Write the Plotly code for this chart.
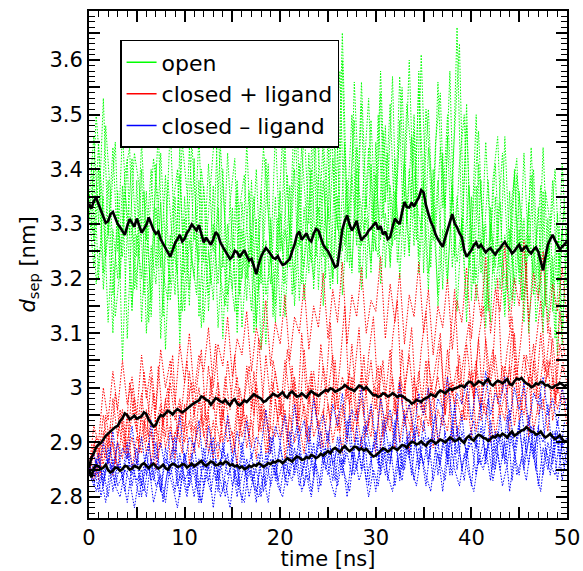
import plotly.graph_objects as go

# sampling grids (ns)
time_ns = [i * 0.5 for i in range(101)]          # runs 1-4
time_ns_mid = [0.25 + i * 0.5 for i in range(100)]  # runs 5-6
time_ns_avg = [i * 0.25 for i in range(201)]      # running averages

# --- open state: individual runs ---
open_run1 = [3.34, 3.46, 3.30, 3.53, 3.28, 3.44, 3.25, 3.47, 3.29, 3.42,
             3.24, 3.45, 3.27, 3.40, 3.22, 3.43, 3.26, 3.48, 3.25, 3.39,
             3.21, 3.44, 3.27, 3.46, 3.23, 3.41, 3.25, 3.50, 3.22, 3.43,
             3.26, 3.38, 3.20, 3.45, 3.24, 3.40, 3.19, 3.42, 3.23, 3.47,
             3.25, 3.44, 3.28, 3.52, 3.26, 3.48, 3.30, 3.55, 3.27, 3.46,
             3.31, 3.53, 3.29, 3.65, 3.32, 3.50, 3.28, 3.56, 3.33, 3.49,
             3.30, 3.58, 3.34, 3.52, 3.29, 3.57, 3.35, 3.60, 3.31, 3.55,
             3.36, 3.51, 3.30, 3.56, 3.33, 3.50, 3.34, 3.66, 3.28, 3.48,
             3.26, 3.50, 3.24, 3.45, 3.27, 3.41, 3.22, 3.46, 3.25, 3.39,
             3.21, 3.43, 3.24, 3.40, 3.20, 3.44, 3.23, 3.38, 3.19, 3.41,
             3.24]
open_run2 = [3.33, 3.22, 3.40, 3.18, 3.31, 3.10, 3.36, 3.05, 3.29, 3.14,
             3.38, 3.12, 3.30, 3.16, 3.41, 3.09, 3.27, 3.19, 3.35, 3.08,
             3.31, 3.15, 3.42, 3.13, 3.28, 3.17, 3.37, 3.11, 3.26, 3.14,
             3.33, 3.10, 3.29, 3.16, 3.38, 3.12, 3.25, 3.08, 3.31, 3.15,
             3.36, 3.13, 3.30, 3.18, 3.41, 3.16, 3.27, 3.20, 3.39, 3.15,
             3.33, 3.19, 3.44, 3.17, 3.30, 3.22, 3.40, 3.18, 3.35, 3.21,
             3.45, 3.19, 3.32, 3.23, 3.42, 3.20, 3.36, 3.24, 3.47, 3.21,
             3.34, 3.18, 3.40, 3.15, 3.29, 3.19, 3.37, 3.14, 3.31, 3.12,
             3.35, 3.16, 3.27, 3.11, 3.33, 3.18, 3.26, 3.13, 3.36, 3.15,
             3.29, 3.12, 3.34, 3.17, 3.25, 3.10, 3.31, 3.14, 3.27, 3.08,
             3.30]
open_run3 = [3.36, 3.27, 3.45, 3.21, 3.38, 3.17, 3.30, 3.24, 3.42, 3.15,
             3.28, 3.20, 3.36, 3.13, 3.33, 3.22, 3.39, 3.16, 3.27, 3.12,
             3.35, 3.18, 3.29, 3.23, 3.37, 3.14, 3.30, 3.19, 3.40, 3.17,
             3.26, 3.13, 3.34, 3.20, 3.28, 3.11, 3.36, 3.17, 3.24, 3.12,
             3.32, 3.19, 3.37, 3.15, 3.29, 3.22, 3.43, 3.18, 3.33, 3.24,
             3.46, 3.20, 3.35, 3.25, 3.38, 3.21, 3.44, 3.26, 3.31, 3.23,
             3.39, 3.27, 3.48, 3.22, 3.36, 3.28, 3.41, 3.25, 3.50, 3.24,
             3.38, 3.21, 3.32, 3.17, 3.43, 3.20, 3.35, 3.23, 3.30, 3.16,
             3.28, 3.20, 3.38, 3.14, 3.30, 3.22, 3.34, 3.15, 3.29, 3.19,
             3.36, 3.16, 3.28, 3.21, 3.33, 3.13, 3.27, 3.18, 3.32, 3.11,
             3.26]
open_run4 = [3.31, 3.40, 3.20, 3.35, 3.12, 3.29, 3.20, 3.37, 3.09, 3.31,
             3.18, 3.40, 3.10, 3.26, 3.19, 3.34, 3.07, 3.28, 3.17, 3.44,
             3.14, 3.27, 3.20, 3.38, 3.12, 3.25, 3.16, 3.33, 3.09, 3.30,
             3.18, 3.36, 3.11, 3.24, 3.14, 3.31, 3.07, 3.27, 3.19, 3.35,
             3.13, 3.29, 3.22, 3.40, 3.16, 3.33, 3.21, 3.47, 3.18, 3.38,
             3.24, 3.42, 3.19, 3.60, 3.23, 3.39, 3.26, 3.52, 3.20, 3.41,
             3.25, 3.54, 3.22, 3.37, 3.27, 3.49, 3.24, 3.40, 3.26, 3.58,
             3.21, 3.44, 3.27, 3.38, 3.18, 3.46, 3.22, 3.35, 3.25, 3.52,
             3.16, 3.37, 3.21, 3.30, 3.12, 3.35, 3.18, 3.28, 3.14, 3.40,
             3.19, 3.31, 3.10, 3.26, 3.17, 3.36, 3.12, 3.24, 3.06, 3.29,
             3.18]
open_run5 = [3.41, 3.19, 3.27, 3.48, 3.35, 3.13, 3.22, 3.39, 3.44, 3.18,
             3.25, 3.36, 3.12, 3.30, 3.47, 3.21, 3.16, 3.33, 3.40, 3.14,
             3.23, 3.45, 3.31, 3.11, 3.26, 3.38, 3.49, 3.20, 3.15, 3.34,
             3.42, 3.17, 3.24, 3.36, 3.10, 3.28, 3.44, 3.32, 3.16, 3.29,
             3.46, 3.22, 3.35, 3.51, 3.19, 3.27, 3.40, 3.24, 3.55, 3.30,
             3.18, 3.43, 3.58, 3.26, 3.34, 3.49, 3.21, 3.39, 3.53, 3.28,
             3.24, 3.47, 3.36, 3.57, 3.23, 3.32, 3.52, 3.42, 3.27, 3.61,
             3.35, 3.22, 3.45, 3.54, 3.26, 3.31, 3.48, 3.63, 3.25, 3.37,
             3.19, 3.41, 3.29, 3.14, 3.38, 3.46, 3.23, 3.18, 3.35, 3.42,
             3.16, 3.27, 3.39, 3.12, 3.21, 3.36, 3.30, 3.09, 3.25, 3.33]
open_run6 = [3.29, 3.50, 3.38, 3.24, 3.33, 3.45, 3.20, 3.36, 3.28, 3.43,
             3.37, 3.17, 3.29, 3.42, 3.34, 3.13, 3.38, 3.26, 3.21, 3.45,
             3.36, 3.24, 3.17, 3.40, 3.32, 3.19, 3.27, 3.44, 3.30, 3.21,
             3.14, 3.33, 3.39, 3.22, 3.35, 3.18, 3.26, 3.41, 3.13, 3.31,
             3.25, 3.39, 3.17, 3.28, 3.44, 3.31, 3.23, 3.49, 3.37, 3.20,
             3.52, 3.33, 3.27, 3.45, 3.22, 3.56, 3.36, 3.29, 3.44, 3.25,
             3.50, 3.31, 3.43, 3.26, 3.39, 3.55, 3.30, 3.46, 3.34, 3.29,
             3.51, 3.40, 3.28, 3.44, 3.33, 3.58, 3.24, 3.41, 3.50, 3.22,
             3.34, 3.47, 3.26, 3.38, 3.21, 3.30, 3.43, 3.27, 3.16, 3.39,
             3.31, 3.20, 3.44, 3.25, 3.37, 3.15, 3.28, 3.40, 3.22, 3.35]

# --- closed + ligand: individual runs ---
lig_run1 = [2.85, 2.93, 2.90, 3.00, 2.94, 3.03, 2.96, 3.05, 2.97, 3.02,
            2.95, 3.06, 2.98, 3.04, 2.96, 3.07, 3.00, 3.05, 2.97, 3.08,
            3.01, 3.10, 2.99, 3.06, 3.03, 3.11, 3.00, 3.08, 3.04, 3.13,
            3.02, 3.09, 3.06, 3.14, 3.03, 3.11, 3.07, 3.16, 3.04, 3.12,
            3.08, 3.17, 3.05, 3.13, 3.10, 3.19, 3.07, 3.15, 3.11, 3.21,
            3.09, 3.18, 3.12, 3.23, 3.08, 3.17, 3.13, 3.22, 3.10, 3.16,
            3.14, 3.24, 3.09, 3.19, 3.12, 3.21, 3.08, 3.17, 3.13, 3.23,
            3.10, 3.18, 3.06, 3.15, 3.11, 3.20, 3.07, 3.16, 3.12, 3.22,
            3.09, 3.19, 3.13, 3.24, 3.10, 3.18, 3.14, 3.26, 3.11, 3.20,
            3.15, 3.27, 3.12, 3.21, 3.16, 3.25, 3.10, 3.19, 3.14, 3.22,
            3.12]
lig_run2 = [2.85, 2.90, 2.87, 2.95, 2.89, 2.98, 2.91, 2.96, 2.88, 3.00,
            2.92, 2.99, 2.90, 3.02, 2.93, 2.97, 2.91, 3.01, 2.94, 2.98,
            2.92, 3.03, 2.95, 3.00, 2.93, 3.04, 2.96, 3.01, 2.94, 3.05,
            2.97, 3.02, 2.93, 3.04, 2.96, 3.01, 2.94, 3.06, 2.97, 3.03,
            2.95, 3.05, 2.98, 3.02, 2.94, 3.07, 2.97, 3.03, 2.95, 3.04,
            2.99, 3.06, 2.96, 3.02, 2.98, 3.08, 2.95, 3.03, 2.99, 3.05,
            2.96, 3.04, 2.98, 3.07, 2.95, 3.02, 2.99, 3.06, 2.97, 3.03,
            2.95, 3.05, 2.98, 3.02, 2.96, 3.07, 2.99, 3.04, 2.97, 3.08,
            3.00, 3.05, 2.97, 3.09, 3.01, 3.06, 2.98, 3.04, 3.00, 3.10,
            2.99, 3.06, 3.01, 3.08, 2.98, 3.05, 3.02, 3.09, 2.99, 3.04,
            3.01]
lig_run3 = [2.84, 2.88, 2.83, 2.92, 2.86, 2.90, 2.85, 2.94, 2.87, 2.91,
            2.86, 2.95, 2.88, 2.92, 2.85, 2.96, 2.89, 2.93, 2.87, 2.97,
            2.90, 2.94, 2.88, 2.98, 2.91, 2.95, 2.87, 2.99, 2.90, 2.94,
            2.88, 2.97, 2.91, 2.95, 2.89, 3.00, 2.92, 2.96, 2.88, 2.98,
            2.91, 2.96, 2.89, 3.01, 2.92, 2.97, 2.90, 2.99, 2.93, 2.96,
            2.89, 3.00, 2.92, 2.97, 2.90, 3.02, 2.93, 2.98, 2.91, 2.96,
            2.88, 2.99, 2.92, 2.95, 2.89, 3.01, 2.93, 2.97, 2.90, 2.95,
            2.92, 3.00, 2.89, 2.96, 2.93, 3.02, 2.90, 2.98, 2.94, 2.99,
            2.91, 3.03, 2.94, 2.97, 2.90, 3.01, 2.95, 2.99, 2.92, 3.04,
            2.94, 3.00, 2.91, 3.05, 2.95, 2.98, 2.92, 3.02, 2.96, 3.00,
            2.93]
lig_run4 = [2.85, 2.83, 2.89, 2.86, 2.92, 2.84, 2.90, 2.87, 2.95, 2.85,
            2.91, 2.88, 2.96, 2.86, 2.93, 2.89, 2.98, 2.87, 2.92, 2.90,
            2.97, 2.86, 2.93, 2.89, 2.99, 2.88, 2.94, 2.87, 2.96, 2.90,
            2.92, 2.86, 2.98, 2.89, 2.94, 2.87, 2.97, 2.88, 2.93, 2.91,
            2.99, 2.87, 2.95, 2.90, 2.93, 2.88, 3.00, 2.91, 2.94, 2.89,
            2.97, 2.90, 2.95, 2.88, 3.01, 2.92, 2.96, 2.89, 2.94, 2.91,
            3.00, 2.89, 2.95, 2.92, 2.98, 2.90, 2.96, 2.88, 3.02, 2.91,
            2.97, 2.93, 2.99, 2.90, 2.95, 2.92, 3.01, 2.91, 2.96, 2.94,
            3.03, 2.92, 2.98, 2.95, 3.00, 2.91, 2.97, 2.94, 3.04, 2.93,
            2.99, 2.95, 3.02, 2.92, 2.97, 2.96, 3.05, 2.94, 3.00, 2.97,
            2.98]
lig_run5 = [2.87, 2.91, 2.84, 2.95, 2.89, 2.99, 2.92, 2.88, 3.01, 2.94,
            2.90, 3.03, 2.96, 2.89, 3.04, 2.93, 2.98, 3.06, 2.91, 2.97,
            3.05, 2.92, 3.00, 3.07, 2.94, 2.99, 3.08, 2.93, 3.02, 2.96,
            3.06, 2.91, 2.98, 3.04, 2.95, 3.09, 2.97, 2.92, 3.05, 3.00,
            2.94, 3.07, 3.01, 2.93, 3.10, 2.98, 3.03, 2.95, 3.08, 2.99,
            3.12, 2.96, 3.04, 3.15, 2.97, 3.02, 3.11, 2.95, 3.06, 3.13,
            2.98, 3.05, 2.94, 3.09, 3.16, 2.97, 3.03, 3.11, 2.96, 3.07,
            3.14, 2.99, 3.04, 3.10, 2.95, 3.08, 3.18, 3.00, 3.06, 3.12,
            2.98, 3.09, 3.15, 3.01, 3.05, 3.20, 2.99, 3.07, 3.13, 3.02,
            3.10, 3.23, 3.00, 3.08, 3.16, 3.03, 3.11, 2.98, 3.14, 3.06]
lig_run6 = [2.86, 2.84, 2.90, 2.87, 2.93, 2.86, 2.96, 2.89, 2.92, 2.98,
            2.88, 2.94, 2.91, 2.99, 2.87, 2.95, 3.00, 2.90, 2.93, 2.88,
            2.97, 3.01, 2.91, 2.95, 2.89, 3.02, 2.94, 2.90, 2.98, 2.93,
            2.89, 3.00, 2.95, 2.91, 3.03, 2.92, 2.96, 2.88, 3.01, 2.94,
            2.97, 2.90, 3.04, 2.93, 2.99, 2.91, 3.02, 2.95, 2.89, 3.00,
            2.94, 3.05, 2.92, 2.98, 3.03, 2.90, 2.96, 3.06, 2.93, 2.99,
            3.04, 2.91, 2.97, 3.02, 2.94, 3.07, 2.95, 2.92, 3.00, 2.96,
            3.05, 2.93, 2.99, 3.08, 2.95, 3.01, 2.97, 3.06, 2.94, 3.03,
            2.98, 3.09, 2.96, 3.02, 3.07, 2.97, 3.04, 2.99, 3.11, 3.00,
            2.96, 3.06, 3.02, 2.98, 3.10, 3.01, 3.05, 2.97, 3.08, 3.03]

# --- closed - ligand: individual runs ---
apo_run1 = [2.85, 2.88, 2.84, 2.90, 2.86, 2.92, 2.85, 2.89, 2.87, 2.93,
            2.86, 2.91, 2.84, 2.94, 2.87, 2.90, 2.85, 2.92, 2.88, 2.95,
            2.86, 2.91, 2.89, 2.94, 2.85, 2.93, 2.88, 2.90, 2.87, 2.95,
            2.86, 2.92, 2.88, 2.94, 2.87, 2.91, 2.89, 2.96, 2.88, 2.93,
            2.90, 2.95, 2.88, 2.97, 2.91, 2.94, 2.89, 2.98, 2.92, 2.95,
            2.90, 2.97, 2.93, 2.99, 2.91, 2.96, 2.94, 3.00, 2.92, 2.97,
            2.90, 2.98, 2.93, 2.96, 2.91, 3.01, 2.94, 2.97, 2.92, 2.99,
            2.95, 3.00, 2.93, 2.98, 2.96, 3.02, 2.94, 2.99, 2.97, 3.01,
            2.94, 3.00, 2.96, 3.03, 2.95, 2.99, 2.97, 3.02, 2.94, 3.00,
            2.96, 3.01, 2.93, 2.99, 2.97, 3.02, 2.95, 2.98, 2.93, 3.00,
            2.96]
apo_run2 = [2.85, 2.82, 2.87, 2.83, 2.89, 2.81, 2.86, 2.84, 2.90, 2.82,
            2.87, 2.80, 2.88, 2.83, 2.86, 2.81, 2.89, 2.84, 2.87, 2.80,
            2.88, 2.82, 2.86, 2.79, 2.89, 2.83, 2.87, 2.81, 2.90, 2.84,
            2.86, 2.80, 2.88, 2.83, 2.85, 2.79, 2.89, 2.82, 2.87, 2.84,
            2.90, 2.83, 2.88, 2.85, 2.91, 2.82, 2.89, 2.84, 2.92, 2.86,
            2.89, 2.83, 2.91, 2.86, 2.88, 2.84, 2.93, 2.85, 2.90, 2.87,
            2.92, 2.84, 2.89, 2.86, 2.94, 2.83, 2.90, 2.87, 2.92, 2.85,
            2.91, 2.86, 2.93, 2.84, 2.90, 2.87, 2.94, 2.85, 2.92, 2.88,
            2.90, 2.84, 2.93, 2.87, 2.91, 2.85, 2.95, 2.86, 2.92, 2.88,
            2.94, 2.85, 2.91, 2.87, 2.93, 2.84, 2.90, 2.86, 2.92, 2.83,
            2.89]
apo_run3 = [2.84, 2.86, 2.81, 2.85, 2.80, 2.87, 2.82, 2.84, 2.79, 2.86,
            2.83, 2.85, 2.80, 2.87, 2.82, 2.84, 2.79, 2.86, 2.81, 2.88,
            2.83, 2.85, 2.80, 2.87, 2.82, 2.86, 2.78, 2.85, 2.81, 2.88,
            2.82, 2.86, 2.79, 2.87, 2.83, 2.85, 2.80, 2.88, 2.82, 2.86,
            2.81, 2.87, 2.84, 2.89, 2.82, 2.86, 2.83, 2.90, 2.81, 2.88,
            2.84, 2.89, 2.82, 2.87, 2.80, 2.88, 2.85, 2.91, 2.83, 2.87,
            2.81, 2.89, 2.84, 2.90, 2.82, 2.88, 2.85, 2.92, 2.83, 2.89,
            2.86, 2.91, 2.83, 2.88, 2.81, 2.90, 2.84, 2.93, 2.85, 2.89,
            2.82, 2.91, 2.86, 2.89, 2.83, 2.92, 2.85, 2.90, 2.81, 2.88,
            2.84, 2.91, 2.86, 2.93, 2.82, 2.89, 2.85, 2.92, 2.83, 2.90,
            2.86]
apo_run4 = [2.86, 2.84, 2.88, 2.82, 2.87, 2.85, 2.90, 2.83, 2.88, 2.84,
            2.89, 2.82, 2.86, 2.84, 2.90, 2.81, 2.87, 2.85, 2.91, 2.83,
            2.88, 2.84, 2.90, 2.82, 2.87, 2.85, 2.91, 2.83, 2.89, 2.86,
            2.87, 2.82, 2.90, 2.84, 2.88, 2.81, 2.86, 2.85, 2.91, 2.83,
            2.89, 2.85, 2.92, 2.84, 2.88, 2.86, 2.93, 2.85, 2.90, 2.87,
            2.92, 2.86, 2.89, 2.84, 2.94, 2.87, 2.91, 2.85, 2.93, 2.88,
            2.90, 2.85, 2.93, 2.87, 2.91, 2.84, 2.95, 2.88, 2.92, 2.86,
            2.94, 2.87, 2.91, 2.89, 2.96, 2.86, 2.93, 2.88, 2.95, 2.87,
            2.92, 2.89, 2.97, 2.86, 2.94, 2.88, 2.91, 2.87, 2.96, 2.89,
            2.93, 2.86, 2.95, 2.88, 2.92, 2.90, 2.97, 2.87, 2.94, 2.89,
            2.91]
apo_run5 = [2.83, 2.87, 2.80, 2.85, 2.89, 2.82, 2.86, 2.81, 2.88, 2.84,
            2.80, 2.86, 2.90, 2.83, 2.87, 2.79, 2.85, 2.89, 2.82, 2.86,
            2.81, 2.88, 2.84, 2.79, 2.86, 2.90, 2.83, 2.87, 2.80, 2.85,
            2.89, 2.82, 2.86, 2.80, 2.84, 2.88, 2.81, 2.87, 2.91, 2.83,
            2.86, 2.82, 2.89, 2.93, 2.84, 2.88, 2.81, 2.87, 2.92, 2.85,
            2.89, 2.83, 2.91, 2.86, 2.95, 2.84, 2.88, 2.93, 2.82, 2.90,
            2.86, 2.94, 2.83, 2.89, 2.96, 2.85, 2.91, 2.84, 2.93, 2.88,
            2.82, 2.90, 2.95, 2.86, 2.92, 2.84, 2.97, 2.88, 2.83, 2.91,
            2.94, 2.86, 2.90, 2.98, 2.85, 2.92, 2.87, 2.95, 2.83, 2.90,
            2.96, 2.88, 2.93, 2.85, 2.99, 2.89, 2.84, 2.92, 2.87, 2.94]
apo_run6 = [2.85, 2.81, 2.84, 2.79, 2.86, 2.82, 2.80, 2.85, 2.83, 2.78,
            2.84, 2.81, 2.86, 2.79, 2.83, 2.80, 2.85, 2.82, 2.78, 2.84,
            2.80, 2.86, 2.82, 2.79, 2.84, 2.81, 2.87, 2.80, 2.83, 2.78,
            2.85, 2.81, 2.79, 2.86, 2.82, 2.80, 2.84, 2.79, 2.87, 2.82,
            2.80, 2.85, 2.83, 2.88, 2.81, 2.84, 2.80, 2.86, 2.82, 2.89,
            2.83, 2.80, 2.87, 2.84, 2.81, 2.88, 2.83, 2.86, 2.80, 2.85,
            2.82, 2.89, 2.84, 2.81, 2.87, 2.83, 2.90, 2.85, 2.82, 2.88,
            2.84, 2.81, 2.89, 2.86, 2.83, 2.91, 2.85, 2.82, 2.88, 2.84,
            2.81, 2.87, 2.85, 2.90, 2.83, 2.88, 2.82, 2.86, 2.92, 2.84,
            2.87, 2.83, 2.90, 2.85, 2.81, 2.89, 2.86, 2.84, 2.91, 2.85]

# --- running averages over all runs of each state (0.25 ns) ---
open_mean = [3.337, 3.328, 3.342, 3.348, 3.336, 3.325, 3.315, 3.302, 3.305, 3.318,
             3.322, 3.309, 3.300, 3.294, 3.288, 3.280, 3.296, 3.309, 3.302, 3.295,
             3.310, 3.297, 3.284, 3.291, 3.298, 3.312, 3.300, 3.289, 3.282, 3.286,
             3.272, 3.264, 3.257, 3.249, 3.240, 3.252, 3.265, 3.272, 3.280, 3.268,
             3.273, 3.284, 3.290, 3.299, 3.294, 3.288, 3.298, 3.281, 3.266, 3.275,
             3.268, 3.262, 3.272, 3.285, 3.280, 3.266, 3.258, 3.250, 3.244, 3.236,
             3.240, 3.251, 3.248, 3.239, 3.246, 3.252, 3.242, 3.233, 3.236, 3.222,
             3.208, 3.226, 3.240, 3.249, 3.256, 3.251, 3.245, 3.238, 3.236, 3.241,
             3.232, 3.225, 3.227, 3.231, 3.236, 3.250, 3.262, 3.280, 3.286, 3.271,
             3.276, 3.283, 3.272, 3.268, 3.282, 3.291, 3.288, 3.275, 3.262, 3.255,
             3.250, 3.241, 3.230, 3.221, 3.224, 3.256, 3.290, 3.305, 3.316, 3.299,
             3.288, 3.296, 3.306, 3.285, 3.270, 3.276, 3.280, 3.288, 3.292, 3.298,
             3.303, 3.290, 3.296, 3.281, 3.286, 3.272, 3.276, 3.294, 3.310, 3.304,
             3.300, 3.322, 3.340, 3.331, 3.330, 3.339, 3.332, 3.341, 3.348, 3.362,
             3.358, 3.334, 3.318, 3.304, 3.295, 3.281, 3.272, 3.264, 3.258, 3.274,
             3.290, 3.306, 3.318, 3.301, 3.294, 3.283, 3.276, 3.252, 3.240, 3.246,
             3.252, 3.261, 3.266, 3.256, 3.262, 3.255, 3.248, 3.253, 3.256, 3.249,
             3.244, 3.251, 3.255, 3.262, 3.267, 3.259, 3.254, 3.246, 3.250, 3.257,
             3.262, 3.250, 3.256, 3.259, 3.250, 3.246, 3.253, 3.257, 3.249, 3.232,
             3.215, 3.240, 3.262, 3.272, 3.280, 3.270, 3.262, 3.254, 3.258, 3.264,
             3.268]
lig_mean = [2.853, 2.872, 2.880, 2.891, 2.896, 2.899, 2.905, 2.912, 2.916, 2.920,
            2.924, 2.928, 2.930, 2.939, 2.944, 2.953, 2.950, 2.942, 2.945, 2.949,
            2.943, 2.946, 2.948, 2.955, 2.952, 2.941, 2.934, 2.929, 2.932, 2.943,
            2.950, 2.948, 2.953, 2.958, 2.955, 2.951, 2.957, 2.961, 2.958, 2.955,
            2.958, 2.962, 2.966, 2.969, 2.972, 2.975, 2.977, 2.984, 2.982, 2.978,
            2.976, 2.969, 2.974, 2.981, 2.979, 2.975, 2.973, 2.978, 2.972, 2.968,
            2.976, 2.979, 2.971, 2.968, 2.972, 2.977, 2.974, 2.979, 2.982, 2.988,
            2.985, 2.983, 2.980, 2.974, 2.976, 2.981, 2.984, 2.989, 2.987, 2.984,
            2.988, 2.992, 2.985, 2.982, 2.990, 2.993, 2.988, 2.984, 2.985, 2.990,
            2.986, 2.982, 2.989, 2.994, 2.990, 2.987, 2.985, 2.989, 2.992, 2.996,
            2.994, 2.999, 2.997, 2.993, 2.995, 2.998, 3.000, 3.005, 3.002, 2.998,
            2.997, 2.994, 2.999, 3.004, 3.002, 2.997, 3.001, 2.996, 2.990, 2.986,
            2.987, 2.983, 2.985, 2.990, 2.988, 2.984, 2.986, 2.990, 2.987, 2.983,
            2.986, 2.985, 2.982, 2.978, 2.976, 2.971, 2.973, 2.978, 2.976, 2.974,
            2.979, 2.981, 2.983, 2.988, 2.986, 2.984, 2.991, 2.995, 2.993, 2.990,
            2.994, 2.998, 2.996, 2.999, 3.000, 3.003, 3.004, 3.001, 3.007, 3.011,
            3.010, 3.004, 3.007, 3.012, 3.010, 3.006, 3.012, 3.016, 3.007, 3.004,
            3.009, 3.013, 3.011, 3.008, 3.012, 3.016, 3.007, 3.005, 3.012, 3.017,
            3.015, 3.018, 3.012, 3.008, 3.006, 3.001, 3.003, 3.008, 3.006, 3.011,
            3.009, 3.004, 3.005, 3.001, 3.000, 3.004, 3.005, 3.009, 3.006, 3.003,
            3.006]
apo_mean = [2.851, 2.836, 2.853, 2.858, 2.856, 2.851, 2.854, 2.859, 2.849, 2.845,
            2.848, 2.854, 2.853, 2.848, 2.851, 2.857, 2.856, 2.850, 2.852, 2.857,
            2.855, 2.852, 2.859, 2.862, 2.857, 2.853, 2.858, 2.861, 2.856, 2.852,
            2.855, 2.859, 2.853, 2.850, 2.857, 2.861, 2.859, 2.855, 2.856, 2.860,
            2.859, 2.854, 2.857, 2.861, 2.856, 2.859, 2.862, 2.866, 2.860, 2.857,
            2.861, 2.865, 2.863, 2.858, 2.859, 2.863, 2.860, 2.865, 2.863, 2.858,
            2.860, 2.856, 2.858, 2.853, 2.856, 2.851, 2.853, 2.857, 2.855, 2.859,
            2.857, 2.862, 2.859, 2.855, 2.858, 2.862, 2.860, 2.865, 2.863, 2.867,
            2.866, 2.862, 2.866, 2.871, 2.868, 2.865, 2.870, 2.874, 2.872, 2.868,
            2.869, 2.873, 2.871, 2.877, 2.875, 2.871, 2.874, 2.879, 2.876, 2.881,
            2.884, 2.880, 2.887, 2.890, 2.885, 2.882, 2.889, 2.893, 2.888, 2.884,
            2.887, 2.892, 2.891, 2.886, 2.889, 2.885, 2.888, 2.882, 2.878, 2.874,
            2.876, 2.880, 2.884, 2.889, 2.887, 2.883, 2.886, 2.891, 2.889, 2.886,
            2.891, 2.895, 2.894, 2.890, 2.897, 2.901, 2.900, 2.896, 2.898, 2.902,
            2.897, 2.894, 2.900, 2.904, 2.902, 2.898, 2.901, 2.905, 2.903, 2.900,
            2.904, 2.909, 2.906, 2.902, 2.904, 2.908, 2.903, 2.899, 2.908, 2.912,
            2.906, 2.903, 2.910, 2.914, 2.912, 2.908, 2.907, 2.903, 2.906, 2.911,
            2.909, 2.914, 2.911, 2.916, 2.913, 2.909, 2.915, 2.920, 2.912, 2.915,
            2.918, 2.922, 2.923, 2.928, 2.924, 2.920, 2.919, 2.914, 2.916, 2.920,
            2.913, 2.909, 2.912, 2.916, 2.910, 2.906, 2.909, 2.913, 2.906, 2.901,
            2.903]

# tick positions and labels
x_label_vals = [0, 10, 20, 30, 40, 50]
x_label_text = ["0", "10", "20", "30", "40", "50"]
x_mid_vals = [5, 15, 25, 35, 45]
y_label_vals = [2.8, 2.9, 3.0, 3.1, 3.2, 3.3, 3.4, 3.5, 3.6]
y_label_text = ["2.8", "2.9", "3", "3.1", "3.2", "3.3", "3.4", "3.5", "3.6"]
y_mid_vals = [2.85, 2.95, 3.05, 3.15, 3.25, 3.35, 3.45, 3.55, 3.65]

X_RANGE = [0, 50]
Y_RANGE = [2.7615, 3.69]

GREEN = "rgb(0,255,0)"
RED = "rgb(255,0,0)"
BLUE = "rgb(0,0,255)"

groups = [
    ("open", GREEN, [open_run1, open_run2, open_run3, open_run4],
     [open_run5, open_run6]),
    ("closed + ligand", RED, [lig_run1, lig_run2, lig_run3, lig_run4],
     [lig_run5, lig_run6]),
    ("closed \u2013 ligand", BLUE, [apo_run1, apo_run2, apo_run3, apo_run4],
     [apo_run5, apo_run6]),
]

fig = go.Figure()

for name, color, runs, runs_mid in groups:
    for x_grid, run_set in ((time_ns, runs), (time_ns_mid, runs_mid)):
        for run in run_set:
            fig.add_trace(go.Scatter(
                x=x_grid, y=run, mode="lines", showlegend=False,
                line=dict(color=color, width=1, dash="1.5px,1.5px"),
                hoverinfo="skip"))

for mean in (open_mean, lig_mean, apo_mean):
    fig.add_trace(go.Scatter(
        x=time_ns_avg, y=mean, mode="lines", showlegend=False,
        line=dict(color="black", width=2.6), hoverinfo="skip"))

# legend entries drawn as solid coloured lines
for name, color, _, _ in groups:
    fig.add_trace(go.Scatter(
        x=[None], y=[None], mode="lines", name=name,
        line=dict(color=color, width=1.5)))

# empty trace that holds the overlay axes carrying the intermediate ticks
fig.add_trace(go.Scatter(x=[None], y=[None], xaxis="x2", yaxis="y2",
                         showlegend=False, hoverinfo="skip"))

FONT = "DejaVu Sans, Liberation Sans, sans-serif"
TICKFONT = dict(size=21, color="black", family=FONT)
TITLEFONT = dict(size=21, color="black", family=FONT)
frame = dict(showline=True, linecolor="black", linewidth=2, mirror="allticks",
             ticks="inside", tickcolor="black", tickwidth=1.5, ticklen=11,
             showgrid=False, zeroline=False, automargin=False)

fig.update_layout(
    width=583, height=571,
    margin=dict(l=89, r=16, t=11, b=53),
    plot_bgcolor="white", paper_bgcolor="white",
    font=dict(family=FONT, color="black"),
    xaxis=dict(
        range=X_RANGE, tickmode="array", tickvals=x_label_vals, ticktext=x_label_text,
        tickfont=TICKFONT,
        minor=dict(dtick=1, ticks="inside", ticklen=6, tickcolor="black", tickwidth=1.2),
        title=dict(text="time [ns]", font=TITLEFONT, standoff=5),
        **frame),
    yaxis=dict(
        range=Y_RANGE, tickmode="array", tickvals=y_label_vals, ticktext=y_label_text,
        tickfont=TICKFONT,
        minor=dict(dtick=0.01, ticks="inside", ticklen=6, tickcolor="black", tickwidth=1.2),
        title=dict(text="<i>d</i><sub>sep</sub> [nm]", font=TITLEFONT, standoff=8),
        **frame),
    xaxis2=dict(range=X_RANGE, overlaying="x", anchor="y", side="bottom",
                tickmode="array", tickvals=x_mid_vals, showticklabels=False, **frame),
    yaxis2=dict(range=Y_RANGE, overlaying="y", anchor="x", side="left",
                tickmode="array", tickvals=y_mid_vals, showticklabels=False, **frame),
    legend=dict(
        x=0.065, y=0.943, xanchor="left", yanchor="top",
        bgcolor="white", bordercolor="black", borderwidth=1.5,
        font=dict(size=22, color="black", family=FONT),
        itemwidth=30, tracegroupgap=0,
    ),
)

fig.write_html("out.html")
